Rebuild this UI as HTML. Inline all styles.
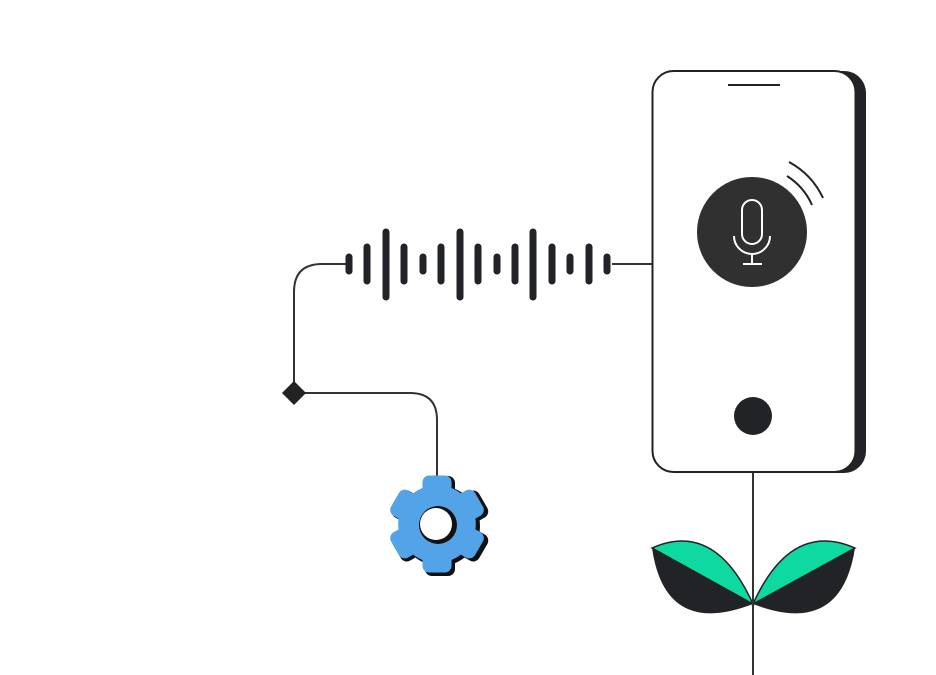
<!DOCTYPE html>
<html><head><meta charset="utf-8"><style>html,body{margin:0;padding:0;background:#fff}svg{display:block}</style></head>
<body>
<svg width="936" height="675" viewBox="0 0 936 675" xmlns="http://www.w3.org/2000/svg">
<defs>
<g id="gear">
<circle cx="0" cy="0" r="40"/>
<rect x="-15" y="-50" width="30" height="22" rx="7"/>
<rect x="-15" y="-50" width="30" height="22" rx="7" transform="rotate(60)"/>
<rect x="-15" y="-50" width="30" height="22" rx="7" transform="rotate(120)"/>
<rect x="-15" y="-50" width="30" height="22" rx="7" transform="rotate(180)"/>
<rect x="-15" y="-50" width="30" height="22" rx="7" transform="rotate(240)"/>
<rect x="-15" y="-50" width="30" height="22" rx="7" transform="rotate(300)"/>
</g>
</defs>
<g fill="none" stroke="#333" stroke-width="2">
<path d="M612 264 H652"/>
<path d="M349 264 H322 Q294 264 294 292 V393"/>
<path d="M294 393 H410 Q437 393 437 420 V478"/>
<path d="M753 472 V675"/>
</g>
<rect x="285.5" y="384.5" width="17" height="17" fill="#222" transform="rotate(45 294 393)"/>
<g stroke="#222326" stroke-width="7" stroke-linecap="round">
<line x1="349" y1="257" x2="349" y2="271"/>
<line x1="367" y1="247" x2="367" y2="281"/>
<line x1="386" y1="232" x2="386" y2="297"/>
<line x1="404" y1="247" x2="404" y2="281"/>
<line x1="423" y1="257" x2="423" y2="271"/>
<line x1="441" y1="247" x2="441" y2="281"/>
<line x1="460" y1="232" x2="460" y2="297"/>
<line x1="478" y1="247" x2="478" y2="281"/>
<line x1="497" y1="257" x2="497" y2="271"/>
<line x1="515" y1="247" x2="515" y2="281"/>
<line x1="533" y1="232" x2="533" y2="297"/>
<line x1="552" y1="247" x2="552" y2="281"/>
<line x1="570" y1="257" x2="570" y2="271"/>
<line x1="589" y1="247" x2="589" y2="281"/>
<line x1="607" y1="257" x2="607" y2="271"/>
</g>
<rect x="663" y="71" width="203" height="402" rx="22" fill="#222326"/>
<rect x="652.5" y="71" width="203" height="401" rx="21" fill="#fff" stroke="#222" stroke-width="2"/>
<line x1="728" y1="85" x2="780" y2="85" stroke="#222" stroke-width="2"/>
<circle cx="752" cy="232" r="55" fill="#303030"/>
<g fill="none" stroke="#fff" stroke-width="2">
<rect x="742" y="200" width="20" height="44" rx="10"/>
<path d="M734 236 A18 18 0 0 0 770 236"/>
<line x1="752" y1="254" x2="752" y2="264"/>
<line x1="743" y1="264" x2="762" y2="264"/>
</g>
<g fill="none" stroke="#222" stroke-width="2">
<path d="M789 162 A79 79 0 0 1 823 198"/>
<path d="M787 176 A66 66 0 0 1 812 205"/>
</g>
<circle cx="753" cy="416" r="19" fill="#222326"/>
<use href="#gear" transform="translate(440 526)" fill="#111"/>
<use href="#gear" transform="translate(437 524) scale(0.97)" fill="#52a3e8"/>
<circle cx="438" cy="525" r="19" fill="#111"/>
<circle cx="436" cy="524" r="16" fill="#fff"/>
<path d="M652 548 Q715 520 753 604 Z" fill="#0dd9a0" stroke="#222" stroke-width="1.5"/>
<path d="M652 548 L753 604 Q665 638 652 548 Z" fill="#222326"/>
<path d="M855 548 Q791 520 753 604 Z" fill="#0dd9a0" stroke="#222" stroke-width="1.5"/>
<path d="M855 548 L753 604 Q841 638 855 548 Z" fill="#222326"/>
<line x1="753" y1="520" x2="753" y2="675" stroke="#333" stroke-width="2"/>
</svg>
</body></html>
